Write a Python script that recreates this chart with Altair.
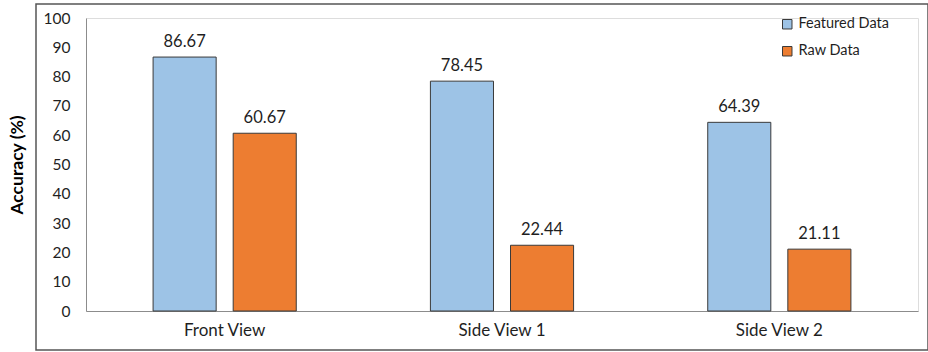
import altair as alt
import pandas as pd

# Classification accuracy per camera view
views = ["Front View", "Side View 1", "Side View 2"]
featured = [86.67, 78.45, 64.39]
raw = [60.67, 22.44, 21.11]
series = ["Featured Data", "Raw Data"]
colors = ["#9DC3E6", "#ED7D31"]

rows = []
for v, f, r in zip(views, featured, raw):
    rows.append({"view": v, "series": series[0], "acc": f})
    rows.append({"view": v, "series": series[1], "acc": r})
df = pd.DataFrame(rows)

FONT = "Lato"

x = alt.X("view:N", sort=views,
          scale=alt.Scale(paddingInner=0, paddingOuter=0),
          axis=alt.Axis(title=None, labelAngle=0, ticks=False, domainColor="#8c8c8c",
                        labelFontSize=17, labelColor="#1f1f1f", labelPadding=11, labelFont=FONT))
xo = alt.XOffset("series:N", sort=series,
                 scale=alt.Scale(paddingInner=0.2125, paddingOuter=0.8375))
y = alt.Y("acc:Q", scale=alt.Scale(domain=[0, 100], nice=False),
          axis=alt.Axis(title="Accuracy (%)", values=list(range(0, 101, 10)), grid=False,
                        ticks=False, domainColor="#8c8c8c", labelFontSize=15.5,
                        labelColor="#1f1f1f", labelPadding=16, labelFont=FONT,
                        titleFont=FONT, titleFontSize=17.5, titleFontWeight="bold",
                        titleColor="#000000", titlePadding=17))

base = alt.Chart(df)

bars = base.mark_bar(stroke="#3a3a3a", strokeWidth=1).encode(
    x=x, xOffset=xo, y=y,
    color=alt.Color("series:N", sort=series,
                    scale=alt.Scale(domain=series, range=colors),
                    legend=alt.Legend(title=None, orient="none", legendX=694, legendY=-1,
                                      symbolType="square", symbolSize=90,
                                      symbolStrokeColor="#3a3a3a", symbolStrokeWidth=1,
                                      labelFont=FONT, labelFontSize=14.5, labelColor="#1f1f1f",
                                      rowPadding=12, labelOffset=4)),
)

labels = base.mark_text(baseline="bottom", dy=-7, fontSize=16.5, font=FONT,
                        color="#1f1f1f").encode(
    x=x, xOffset=xo, y=y, text=alt.Text("acc:Q", format=".2f"))

frame = alt.Chart(pd.DataFrame({"k": [0]})).mark_rect(
    fill=None, stroke="#555555", strokeWidth=1.5, clip=False).encode(
    x=alt.value(-50), x2=alt.value(842), y=alt.value(-14), y2=alt.value(332))

chart = alt.layer(bars, labels, frame).properties(
    width=832, height=293,
    autosize=alt.AutoSizeParams(type="none"),
    padding={"left": 86, "top": 18, "right": 10, "bottom": 41},
).configure_view(stroke=None).configure(background="white")

chart.save("out.html", embed_options={"renderer": "svg", "actions": False})
